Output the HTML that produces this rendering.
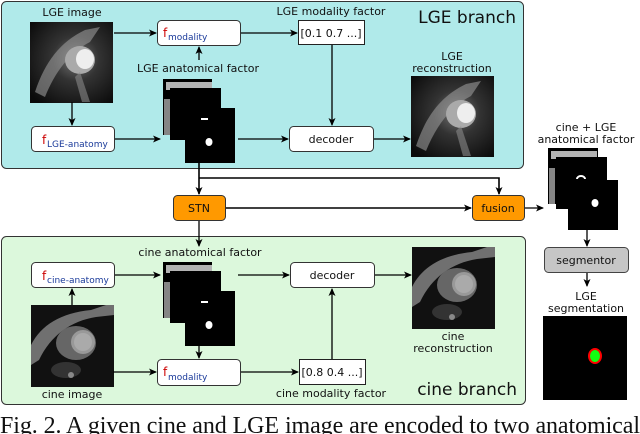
<!DOCTYPE html>
<html><head><meta charset="utf-8"><style>
html,body{margin:0;padding:0;background:#fff;width:640px;height:434px;overflow:hidden}
svg{display:block}
text{font-family:"DejaVu Sans","Liberation Sans",sans-serif;fill:#111}
.cap{font-family:"Liberation Serif",serif;font-size:24px;fill:#111}
</style></head><body>
<svg width="640" height="434" viewBox="0 0 640 434" xmlns="http://www.w3.org/2000/svg">
<defs>
<marker id="ah" markerWidth="8" markerHeight="8" refX="7" refY="4" orient="auto" markerUnits="userSpaceOnUse">
<path d="M0,0.5 L8,4 L0,7.5 L2,4 z" fill="#000"/></marker>
<radialGradient id="mri" cx="0.55" cy="0.45" r="0.7">
<stop offset="0" stop-color="#777"/><stop offset="0.4" stop-color="#333"/><stop offset="1" stop-color="#0a0a0a"/></radialGradient>
<g id="heartL">
<rect width="83" height="81" fill="url(#mri)"/>
<path d="M5,70 C15,40 30,20 55,8 L70,5 L60,20 C40,30 25,50 15,75 z" fill="#999" opacity="0.6"/>
<ellipse cx="50" cy="38" rx="15" ry="14" fill="#aaa"/>
<ellipse cx="55" cy="37" rx="9" ry="10" fill="#eee"/>
<path d="M50,50 L60,80 L52,80 L45,55 z" fill="#888" opacity="0.6"/>
</g>
<g id="heartC">
<rect width="83" height="82" fill="#111"/>
<path d="M0,40 C10,20 30,8 60,5 L75,0 L83,0 L83,10 L65,12 C40,16 20,30 8,55 L0,60 z" fill="#888" opacity="0.8"/>
<ellipse cx="45" cy="38" rx="20" ry="17" fill="#666"/>
<ellipse cx="52" cy="37" rx="12" ry="12" fill="#999"/>
<ellipse cx="52" cy="37" rx="9" ry="9" fill="#aaa"/>
<ellipse cx="35" cy="65" rx="15" ry="8" fill="#333"/>
<circle cx="40" cy="70" r="3" fill="#888"/>
</g>
<g id="stack">
<rect x="0" y="0" width="49" height="56" fill="#000"/>
<rect x="3" y="3" width="46" height="8" fill="#fff" opacity="0.7"/>
<rect x="1" y="20" width="6" height="36" fill="#ddd" opacity="0.6"/>
<rect x="7" y="9" width="51" height="52" fill="#000"/>
<rect x="22" y="29" width="50" height="55" fill="#000"/>
<rect x="38" y="39" width="7" height="2" fill="#fff"/>
<ellipse cx="46" cy="63" rx="3.5" ry="4" fill="#fff"/>
</g>
</defs>

<!-- LGE panel -->
<rect x="1.5" y="1.5" width="522" height="167" rx="5" fill="#b0eaea" stroke="#333" stroke-width="1"/>
<text x="516" y="23" font-size="17" text-anchor="end">LGE branch</text>
<text x="72" y="16" font-size="11" text-anchor="middle">LGE image</text>
<use href="#heartL" x="30" y="22"/>
<rect x="157.5" y="20.5" width="83" height="25" rx="4" fill="#fff" stroke="#333"/>
<text x="163" y="37" font-size="12" style="fill:#c00">f</text>
<text x="168" y="40" font-size="9" style="fill:#1a3a9a">modality</text>
<text x="331" y="15" font-size="11" text-anchor="middle">LGE modality factor</text>
<rect x="298.5" y="20.5" width="66" height="24" fill="#fff" stroke="#222"/>
<text x="331" y="37" font-size="11" text-anchor="middle">[0.1 0.7 ...]</text>
<text x="198" y="72" font-size="11" text-anchor="middle">LGE anatomical factor</text>
<use href="#stack" x="163" y="79"/>
<rect x="31.5" y="126.5" width="83" height="25" rx="4" fill="#fff" stroke="#333"/>
<text x="42" y="144" font-size="12" style="fill:#c00">f</text>
<text x="47" y="147" font-size="9" style="fill:#1a3a9a">LGE-anatomy</text>
<rect x="289.5" y="126.5" width="84" height="25" rx="4" fill="#fff" stroke="#333"/>
<text x="331" y="143" font-size="11" text-anchor="middle">decoder</text>
<text x="452" y="60" font-size="11" text-anchor="middle">LGE</text>
<text x="452" y="72" font-size="11" text-anchor="middle">reconstruction</text>
<use href="#heartL" x="411" y="76"/>

<g stroke="#000" stroke-width="1.3" fill="none" marker-end="url(#ah)">
<line x1="114" y1="33" x2="156" y2="33"/>
<line x1="241" y1="33" x2="297" y2="33"/>
<line x1="199" y1="60" x2="199" y2="47"/>
<line x1="72" y1="102" x2="72" y2="125"/>
<line x1="115" y1="139" x2="160" y2="139"/>
<line x1="238" y1="139" x2="288" y2="139"/>
<line x1="332" y1="45" x2="332" y2="125"/>
<line x1="374" y1="139" x2="410" y2="139"/>
</g>

<!-- cine panel -->
<rect x="1.5" y="236.5" width="524" height="168" rx="5" fill="#dcf8dc" stroke="#333" stroke-width="1"/>
<text x="517" y="395" font-size="17" text-anchor="end">cine branch</text>
<text x="200" y="256" font-size="11" text-anchor="middle">cine anatomical factor</text>
<rect x="31.5" y="262.5" width="83" height="25" rx="4" fill="#fff" stroke="#333"/>
<text x="42" y="280" font-size="12" style="fill:#c00">f</text>
<text x="47" y="283" font-size="9" style="fill:#1a3a9a">cine-anatomy</text>
<use href="#heartC" x="31" y="305"/>
<text x="72" y="398" font-size="11" text-anchor="middle">cine image</text>
<use href="#stack" x="163" y="262"/>
<rect x="290.5" y="262.5" width="84" height="25" rx="4" fill="#fff" stroke="#333"/>
<text x="332" y="279" font-size="11" text-anchor="middle">decoder</text>
<use href="#heartC" x="412" y="247"/>
<text x="453" y="340" font-size="11" text-anchor="middle">cine</text>
<text x="453" y="352" font-size="11" text-anchor="middle">reconstruction</text>
<rect x="157.5" y="359.5" width="83" height="26" rx="4" fill="#fff" stroke="#333"/>
<text x="163" y="376" font-size="12" style="fill:#c00">f</text>
<text x="168" y="380" font-size="9" style="fill:#1a3a9a">modality</text>
<rect x="299.5" y="359.5" width="66" height="25" fill="#fff" stroke="#222"/>
<text x="332" y="376" font-size="11" text-anchor="middle">[0.8 0.4 ...]</text>
<text x="331" y="397" font-size="11" text-anchor="middle">cine modality factor</text>

<g stroke="#000" stroke-width="1.3" fill="none" marker-end="url(#ah)">
<line x1="72" y1="305" x2="72" y2="289"/>
<line x1="115" y1="275" x2="160" y2="275"/>
<line x1="238" y1="275" x2="289" y2="275"/>
<line x1="375" y1="275" x2="411" y2="275"/>
<line x1="199" y1="346" x2="199" y2="358"/>
<line x1="113" y1="372" x2="156" y2="372"/>
<line x1="241" y1="372" x2="298" y2="372"/>
<line x1="332" y1="359" x2="332" y2="289"/>
</g>

<!-- STN & fusion -->
<rect x="173.5" y="195.5" width="52" height="25" rx="4" fill="#ff9900" stroke="#333"/>
<text x="199" y="212" font-size="11" text-anchor="middle">STN</text>
<rect x="472.5" y="195.5" width="52" height="25" rx="4" fill="#ff9900" stroke="#333"/>
<text x="498" y="212" font-size="11" text-anchor="middle">fusion</text>
<g stroke="#000" stroke-width="1.6" fill="none">
<line x1="199" y1="163" x2="199" y2="194" marker-end="url(#ah)"/>
<polyline points="199,178 499,178 499,194" marker-end="url(#ah)"/>
<line x1="226" y1="208" x2="471" y2="208" marker-end="url(#ah)"/>
<line x1="199" y1="221" x2="199" y2="246" stroke-width="1.3" marker-end="url(#ah)"/>
<line x1="525" y1="208" x2="543" y2="208" stroke-width="1.3" marker-end="url(#ah)"/>
</g>

<!-- right column -->
<text x="586" y="131" font-size="11" text-anchor="middle">cine + LGE</text>
<text x="586" y="143" font-size="11" text-anchor="middle">anatomical factor</text>
<g transform="translate(548,148)">
<rect x="0" y="0" width="50" height="56" fill="#000"/>
<rect x="3" y="3" width="46" height="8" fill="#fff" opacity="0.7"/>
<rect x="1" y="20" width="6" height="36" fill="#ddd" opacity="0.6"/>
<rect x="8" y="9" width="51" height="52" fill="#000"/>
<rect x="20" y="32" width="50" height="50" fill="#000"/>
<path d="M29,31 a4,3 0 0 1 8,0" stroke="#fff" stroke-width="2" fill="none"/>
<ellipse cx="47" cy="55" rx="3.5" ry="4" fill="#fff"/>
</g>
<g stroke="#000" stroke-width="1.3" fill="none" marker-end="url(#ah)">
<line x1="587" y1="230" x2="587" y2="246"/>
<line x1="587" y1="272" x2="587" y2="286"/>
</g>
<rect x="544.5" y="247.5" width="84" height="25" rx="4" fill="#c6c6c6" stroke="#444"/>
<text x="586" y="264" font-size="11" text-anchor="middle">segmentor</text>
<text x="586" y="300" font-size="11" text-anchor="middle">LGE</text>
<text x="586" y="312" font-size="11" text-anchor="middle">segmentation</text>
<rect x="543" y="316" width="84" height="84" fill="#000"/>
<ellipse cx="595" cy="356" rx="7" ry="8" fill="#f00"/>
<ellipse cx="595" cy="356" rx="5" ry="6" fill="#1f1"/>

<text class="cap" x="0" y="433" textLength="640" lengthAdjust="spacing">Fig. 2. A given cine and LGE image are encoded to two anatomical</text>
</svg>
</body></html>
